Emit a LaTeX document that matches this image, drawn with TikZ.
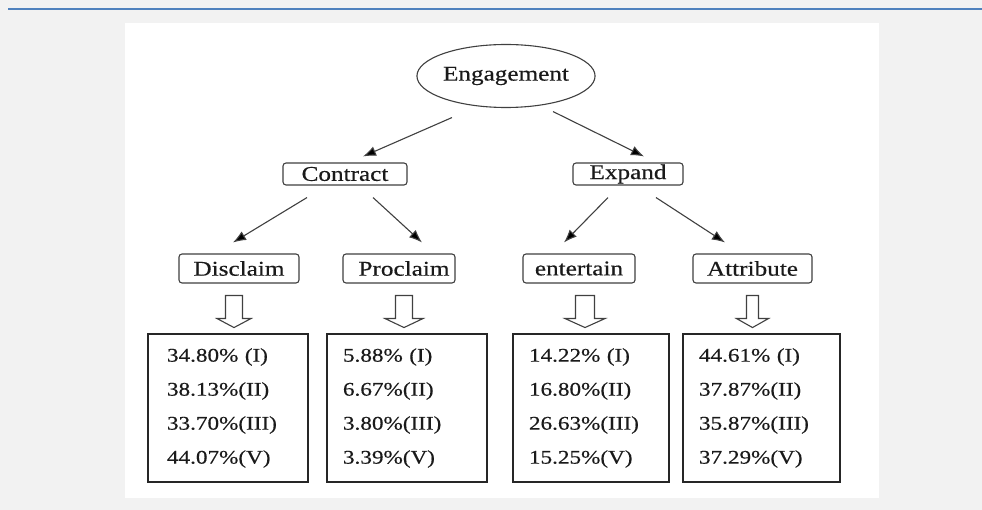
\documentclass[tikz,border=0pt]{standalone}
\usepackage{fontspec}
\setmainfont[FakeStretch=1.2,FakeBold=0.4]{Liberation Serif}
\usetikzlibrary{shapes.geometric,arrows.meta,calc}
\definecolor{bg}{HTML}{F2F2F2}
\definecolor{rulecol}{HTML}{4F81BD}
\definecolor{edgecol}{HTML}{404040}
\definecolor{txtcol}{HTML}{1A1A1A}
\begin{document}
\begin{tikzpicture}[x=1pt,y=-1pt,
  labfont/.style={font=\fontsize{21}{25}\selectfont, text=txtcol},
  topnode/.style={ellipse, draw=edgecol, line width=1.1pt, minimum width=169pt, minimum height=63pt, inner sep=0pt, labfont},
  lab/.style={draw=edgecol, line width=1.1pt, rounded corners=3pt, minimum height=22pt, inner sep=0pt, labfont},
  labtwo/.style={lab, minimum height=29pt},
  databox/.style={draw=black!85, line width=1.6pt, minimum height=148pt, inner ysep=0pt, align=left, font=\fontsize{19.3}{34}\selectfont, text=txtcol},
  conn/.style={draw=edgecol, line width=1.1pt, -{Latex[length=13pt,width=10pt,fill=black]}},
  pics/hollow/.style 2 args={code={
    \draw[edgecol, line width=1.1pt, line join=miter]
      (-#1,0) -- (-#1,23) -- (-#2,23) -- (0,32) -- (#2,23) -- (#1,23) -- (#1,0) -- cycle;}}
]
\fill[bg] (0,0) rectangle (982,510);
\useasboundingbox (0,0) rectangle (982,510);
\fill[white] (125,23) rectangle (879,498);
\draw[rulecol, line width=2pt] (8,9.5) -- (982,9.5);

\node[topnode] (eng) at (506,76) {Engagement};
\node[lab, minimum width=124pt] (contract) at (345,174) {Contract};
\node[lab, minimum width=110pt] (expand) at (628,174) {Expand};
\node[labtwo, minimum width=120pt] (disclaim) at (239,268.5) {Disclaim};
\node[labtwo, minimum width=112pt] (proclaim) at (399,268.5) {\hspace*{10pt}Proclaim};
\node[labtwo, minimum width=112pt] (entertain) at (579,268.5) {entertain};
\node[labtwo, minimum width=119pt] (attribute) at (752.5,268.5) {Attribute};

\node[databox, minimum width=160pt, text width=122pt, inner xsep=19pt] (d1) at (228,408)
  {34.80\% (I)\\38.13\%(II)\\33.70\%(III)\\44.07\%(V)};
\node[databox, minimum width=160pt, text width=128pt, inner xsep=16pt] (d2) at (407,408)
  {5.88\% (I)\\6.67\%(II)\\3.80\%(III)\\3.39\%(V)};
\node[databox, minimum width=156pt, text width=124pt, inner xsep=16pt] (d3) at (591,408)
  {14.22\% (I)\\16.80\%(II)\\26.63\%(III)\\15.25\%(V)};
\node[databox, minimum width=157pt, text width=125pt, inner xsep=16pt] (d4) at (761.5,408)
  {44.61\% (I)\\37.87\%(II)\\35.87\%(III)\\37.29\%(V)};

\draw[conn] ($(eng.south)+(-54,9.5)$) -- ($(contract.north)+(18,-6)$);
\draw[conn] ($(eng.south)+(47,3.5)$) -- ($(expand.north)+(16,-6)$);
\draw[conn] ($(contract.south)+(-38,12)$) -- ($(disclaim.north)+(-6,-11)$);
\draw[conn] ($(contract.south)+(28,12)$) -- ($(proclaim.north)+(23,-11)$);
\draw[conn] ($(expand.south)+(-20,12)$) -- ($(entertain.north)+(-15,-11)$);
\draw[conn] ($(expand.south)+(28,12)$) -- ($(attribute.north)+(-27.5,-11)$);

\pic at ($(disclaim.south)+(-5,12)$) {hollow={8.5}{17}};
\pic at ($(proclaim.south)+(5,12)$) {hollow={8.5}{19}};
\pic at ($(entertain.south)+(6,12)$) {hollow={9.5}{20}};
\pic at ($(attribute.south)+(0,12)$) {hollow={6}{16}};
\end{tikzpicture}
\end{document}
